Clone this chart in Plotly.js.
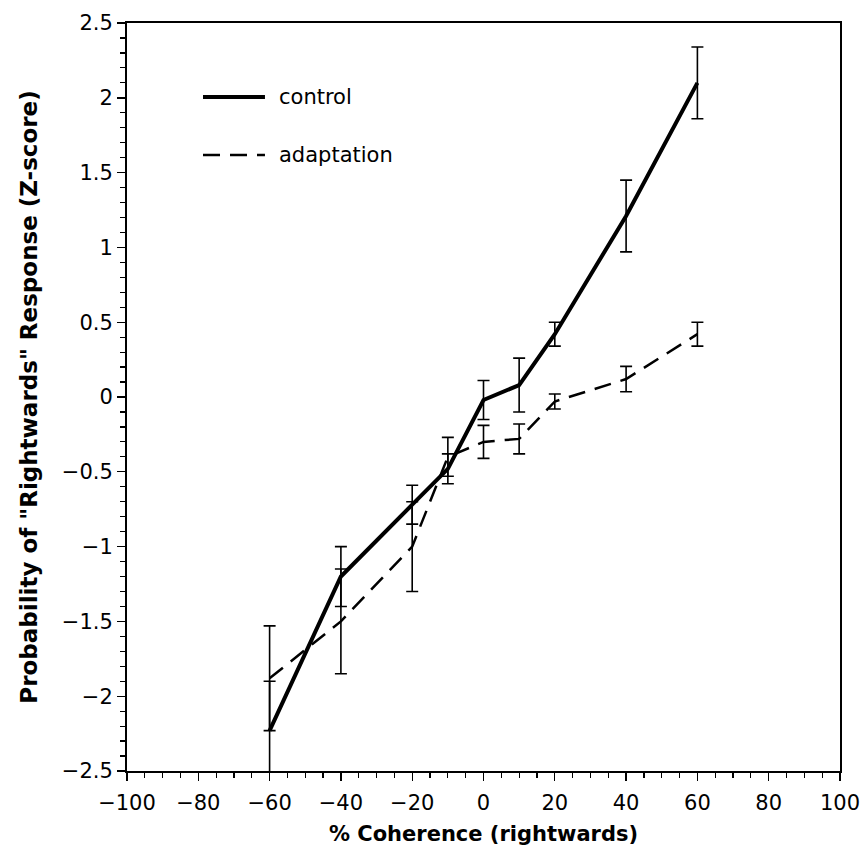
<!DOCTYPE html>
<html>
<head>
<meta charset="utf-8">
<script src="https://cdn.plot.ly/plotly-3.0.1.min.js"></script>
<style>html,body{margin:0;padding:0;background:#fff;}#chart{width:861px;height:855px;}</style>
</head>
<body>
<div id="chart"></div>
<script>
// Data
const coherence = [-60, -40, -20, -10, 0, 10, 20, 40, 60];
const controlZ = [-2.23, -1.20, -0.72, -0.48, -0.02, 0.08, 0.42, 1.21, 2.10];
const controlErr = [0.33, 0.20, 0.13, 0.10, 0.13, 0.18, 0.08, 0.24, 0.24];
const adaptZ = [-1.88, -1.50, -1.00, -0.40, -0.30, -0.28, -0.03, 0.12, 0.42];
const adaptErr = [0.35, 0.35, 0.30, 0.13, 0.11, 0.10, 0.05, 0.085, 0.08];
const seriesNames = ['control', 'adaptation'];
const xTicks = [-100, -80, -60, -40, -20, 0, 20, 40, 60, 80, 100];
const xTickText = ['\u2212100', '\u221280', '\u221260', '\u221240', '\u221220', '0', '20', '40', '60', '80', '100'];
const yTicks = [-2.5, -2, -1.5, -1, -0.5, 0, 0.5, 1, 1.5, 2, 2.5];
const yTickText = ['\u22122.5', '\u22122', '\u22121.5', '\u22121', '\u22120.5', '0', '0.5', '1', '1.5', '2', '2.5'];

const font = '"DejaVu Sans", Verdana, sans-serif';
const controlLine = {color: '#000', width: 4};
const adaptLine = {color: '#000', width: 2.5, dash: '17px,10px'};

const traces = [
  {
    x: coherence, y: controlZ, name: seriesNames[0], type: 'scatter', mode: 'lines',
    line: controlLine, cliponaxis: false, showlegend: false,
    error_y: {type: 'data', array: controlErr, visible: true, color: '#000', thickness: 1.6, width: 6}
  },
  {
    x: coherence, y: adaptZ, name: seriesNames[1], type: 'scatter', mode: 'lines',
    line: adaptLine, cliponaxis: false, showlegend: false,
    error_y: {type: 'data', array: adaptErr, visible: true, color: '#000', thickness: 1.6, width: 6}
  }
];

// Legend drawn as key lines + labels in paper coordinates (inside the plot's upper left)
const legendX0 = 0.1066, legendX1 = 0.1935, legendTextX = 0.2104;
const legendY = [0.901, 0.8235];
const legendLines = [controlLine, adaptLine];
const shapes = legendY.map((yy, i) => ({
  type: 'line', xref: 'paper', yref: 'paper', x0: legendX0, x1: legendX1, y0: yy, y1: yy,
  line: legendLines[i]
}));
const annotations = legendY.map((yy, i) => ({
  xref: 'paper', yref: 'paper', x: legendTextX, y: yy, xanchor: 'left', yanchor: 'middle',
  text: seriesNames[i], showarrow: false, font: {family: font, size: 21, color: '#000'}
}));

const axisCommon = {
  showgrid: false, zeroline: false, showline: true, linecolor: '#000', linewidth: 2,
  mirror: true, ticks: 'outside', ticklen: 8, tickwidth: 1.4, tickcolor: '#000',
  tickfont: {family: font, size: 21, color: '#000'}, automargin: false
};

const layout = {
  width: 861, height: 855,
  margin: {l: 127, r: 21, t: 23, b: 84},
  paper_bgcolor: '#fff', plot_bgcolor: '#fff',
  font: {family: font, size: 21, color: '#000'},
  showlegend: false,
  shapes: shapes,
  annotations: annotations,
  xaxis: Object.assign({}, axisCommon, {
    range: [-100, 100], tickvals: xTicks, ticktext: xTickText, ticklabelstandoff: 4,
    minor: {dtick: 5, tick0: 0, ticks: 'outside', ticklen: 5, tickwidth: 1.2, tickcolor: '#000', showgrid: false},
    title: {text: '% Coherence (rightwards)', font: {family: font, size: 21, weight: 'bold', color: '#000'}, standoff: 12}
  }),
  yaxis: Object.assign({}, axisCommon, {
    range: [-2.5, 2.5], tickvals: yTicks, ticktext: yTickText,
    minor: {dtick: 0.1, tick0: 0, ticks: 'outside', ticklen: 5, tickwidth: 1.2, tickcolor: '#000', showgrid: false},
    title: {text: 'Probability of "Rightwards" Response (Z-score)', font: {family: font, size: 23, weight: 'bold', color: '#000'}, standoff: 18}
  })
};

Plotly.newPlot('chart', traces, layout, {displayModeBar: false, staticPlot: true});
</script>
</body>
</html>
